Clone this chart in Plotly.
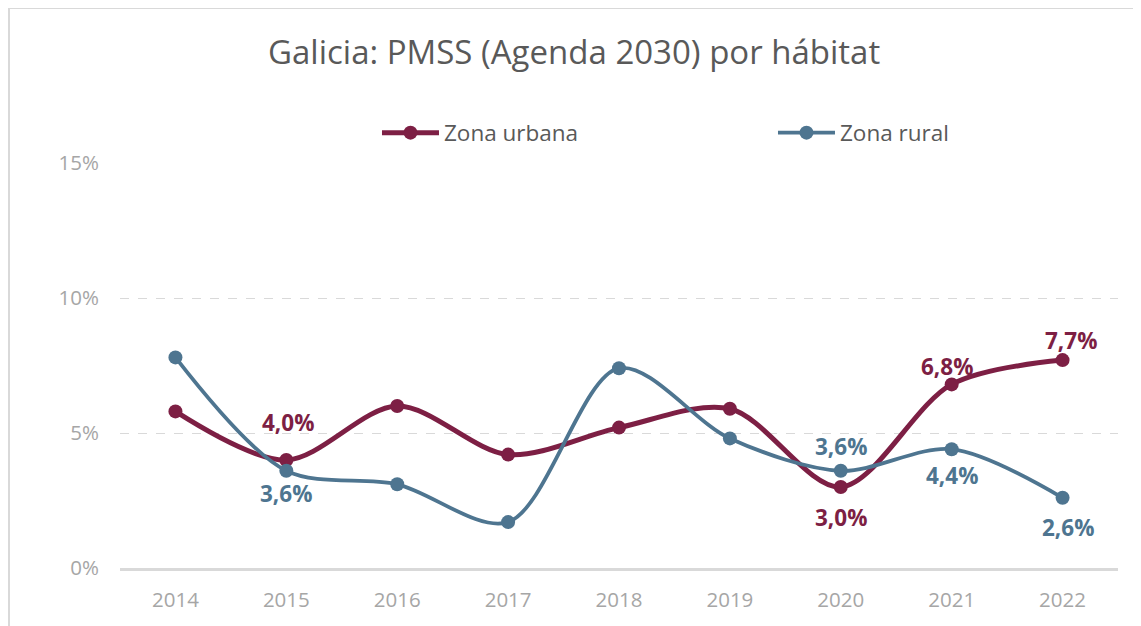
import plotly.graph_objects as go

years = ["2014", "2015", "2016", "2017", "2018", "2019", "2020", "2021", "2022"]
urbana = [5.8, 4.0, 6.0, 4.2, 5.2, 5.9, 3.0, 6.8, 7.7]
rural = [7.8, 3.6, 3.1, 1.7, 7.4, 4.8, 3.6, 4.4, 2.6]
y_ticks = [0, 5, 10, 15]
y_tick_text = ["0%", "5%", "10%", "15%"]

C_URB = "#7D1F44"
C_RUR = "#4E7590"
FONT = "Open Sans"

fig = go.Figure()
fig.add_trace(go.Scatter(x=years, y=urbana, name="Zona urbana", mode="lines+markers",
                         line=dict(color=C_URB, width=5, shape="spline", smoothing=0.9),
                         marker=dict(size=14, color=C_URB)))
fig.add_trace(go.Scatter(x=years, y=rural, name="Zona rural", mode="lines+markers",
                         line=dict(color=C_RUR, width=3.8, shape="spline", smoothing=0.9),
                         marker=dict(size=14, color=C_RUR)))

def fmt(v):
    return f"{v:.1f}".replace(".", ",") + "%"

# labelled points: (series, index, yshift, xshift, colour)
labels = [
    (urbana, 1, 38, 2, C_URB), (urbana, 6, -30, 0, C_URB), (urbana, 7, 18, -5, C_URB), (urbana, 8, 20, 8, C_URB),
    (rural, 1, -23, 0, C_RUR), (rural, 6, 24, 0, C_RUR), (rural, 7, -26, 0, C_RUR), (rural, 8, -30, 5, C_RUR),
]
for ser, i, ys, xs, col in labels:
    fig.add_annotation(x=i, y=ser[i], xref="x", yref="y", text=fmt(ser[i]), showarrow=False,
                       yshift=ys, xshift=xs, font=dict(family=FONT, size=22.5, color=col, weight="bold"))

fig.add_annotation(text="Galicia: PMSS (Agenda 2030) por hábitat", xref="paper", yref="paper",
                   x=0.455, y=1.275, showarrow=False, xanchor="center", yanchor="middle",
                   font=dict(family=FONT, size=33, color="#595959"))

fig.add_shape(type="rect", xref="paper", yref="paper", x0=-0.1112, x1=1.2, y0=-0.5, y1=1.3827,
              line=dict(color="#D9D9D9", width=2), fillcolor="rgba(0,0,0,0)", layer="below")

fig.update_layout(
    width=1141, height=626,
    margin=dict(l=112, r=31, t=155, b=66, autoexpand=False),
    paper_bgcolor="white", plot_bgcolor="white",
    font=dict(family=FONT),
    showlegend=True,
    legend=dict(orientation="h", x=0.2575, y=1.074, xanchor="left", yanchor="middle",
                font=dict(size=22.5, color="#595959"), entrywidth=324, entrywidthmode="pixels",
                itemwidth=57, bgcolor="rgba(0,0,0,0)"),
    xaxis=dict(type="category", range=[-0.5, len(years) - 0.5], showgrid=False, showline=True,
               linecolor="#D9D9D9", linewidth=2.5,
               ticks="", tickfont=dict(size=20.5, color="#A6A6A6"), ticklabelstandoff=12,
               automargin=False),
    yaxis=dict(range=[0, 15], tickvals=y_ticks, ticktext=y_tick_text, showgrid=True,
               gridcolor="#D9D9D9", griddash="dash", gridwidth=1, zeroline=False,
               showline=False, ticks="", tickfont=dict(size=20.5, color="#A6A6A6"),
               ticklabelstandoff=20, automargin=False),
)
fig.write_html("out.html")
